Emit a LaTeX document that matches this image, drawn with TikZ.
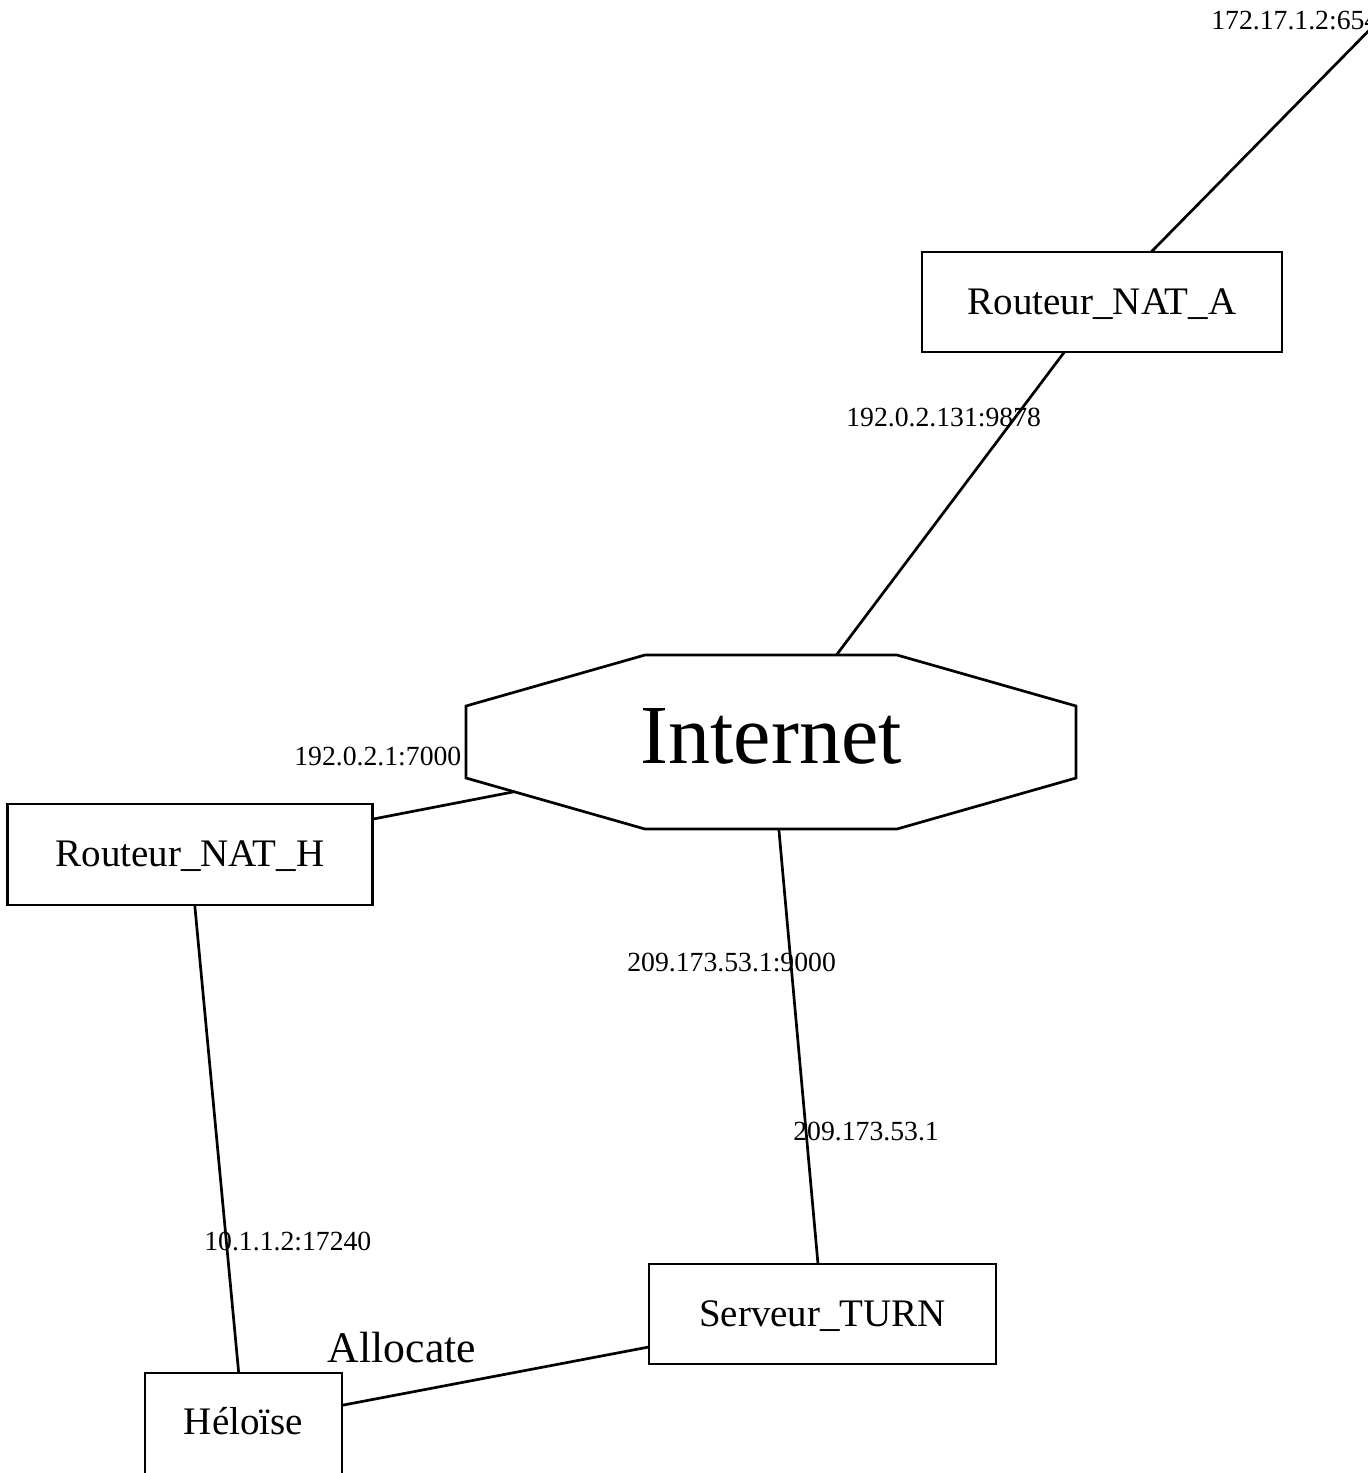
\documentclass[tikz,border=0pt]{standalone}
\usepackage{fontspec}
\setmainfont{Liberation Serif}
\usetikzlibrary{backgrounds}
\begin{document}
\begin{tikzpicture}[x=1pt,y=-1pt,
  line width=2.7pt,
  hostbox/.style={draw, fill=white, rectangle, inner sep=0pt,
    font=\fontsize{39pt}{41pt}\selectfont, text height=24pt, text depth=0pt},
  addr/.style={anchor=base west, inner sep=0pt,
    font=\fontsize{27.7pt}{29pt}\selectfont},
  link/.style={draw, line width=2.7pt}]
  \useasboundingbox (0,0) rectangle (1368,1473);

  % network cloud: stretched octagon
  \draw[fill=white] (645,655) -- (897,655) -- (1076,706) -- (1076,778)
    -- (897,829) -- (645,829) -- (466,778) -- (466,706) -- cycle;
  \node[inner sep=0pt, font=\fontsize{84pt}{88pt}\selectfont,
        text height=42pt, text depth=0pt] (internet) at (771,742) {Internet};

  % hosts and routers
  \node[hostbox, minimum width=360pt, minimum height=100pt] (nata) at (1102,302) {Routeur\_NAT\_A};
  \node[hostbox, minimum width=365pt, minimum height=101pt] (nath) at (190,854.5) {Routeur\_NAT\_H};
  \node[hostbox, minimum width=347pt, minimum height=100pt] (turn) at (822.5,1314) {Serveur\_TURN};
  \node[hostbox, minimum width=197pt, minimum height=102pt, text height=20pt] (helo) at (243.5,1424) {Héloïse};
  \coordinate (alice) at (1450,-52);

  % links between node centres, kept behind the shapes
  \begin{scope}[on background layer]
    \draw[link] (nata.center) -- (alice);
    \draw[link] (nata.center) -- (internet.center);
    \draw[link] (nath.center) -- (internet.center);
    \draw[link] (internet.center) -- (turn.center);
    \draw[link] (nath.center) -- (helo.center);
    \draw[link] (helo.center) -- (turn.center);
  \end{scope}

  % address labels
  \node[addr] (la) at (1210,29) {172.17.1.2:654};
  \node[addr] (lna) at (845,426) {192.0.2.131:9878};
  \node[addr] (lnh) at (293,765) {192.0.2.1:7000};
  \node[addr] (lt1) at (626,971) {209.173.53.1:9000};
  \node[addr] (lt2) at (792,1140) {209.173.53.1};
  \node[addr] (lh) at (203,1250) {10.1.1.2:17240};
  \node[anchor=base, inner sep=0pt, font=\fontsize{43.7pt}{46pt}\selectfont]
    (alloc) at (402,1362) {Allocate};
\end{tikzpicture}
\end{document}
